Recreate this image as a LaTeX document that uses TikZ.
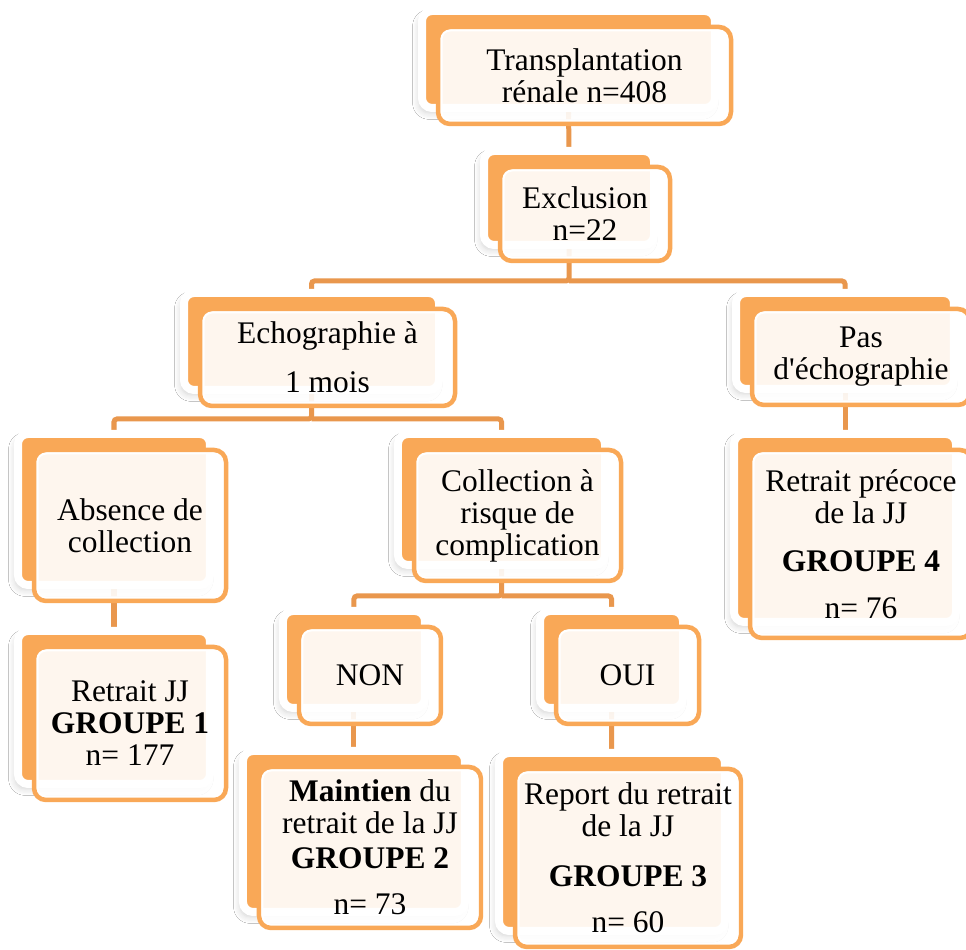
\documentclass[tikz,border=0pt]{standalone}
\usepackage{fontspec}
\setmainfont{Liberation Serif}
\usetikzlibrary{shadows.blur,backgrounds}

\definecolor{boxorange}{HTML}{F9A857}
\definecolor{linkorange}{HTML}{E9974D}
\definecolor{boxfill}{HTML}{FFFFFF}

\newcommand{\boxfont}{\fontsize{8.95pt}{9.1pt}\selectfont}

\begin{document}
\begin{tikzpicture}
\tikzset{ backbox/.style={fill=boxorange, draw=white, line width=0.08cm, rounded corners=0.1cm, inner sep=0pt,
            blur shadow={shadow xshift=-0.03cm, shadow yshift=-0.05cm, shadow opacity=18, shadow blur steps=6}},
          frontbox/.style={draw=boxorange, line width=0.045cm, rounded corners=0.12cm, fill=boxfill,
            fill opacity=0.9, text opacity=1, inner sep=0pt, align=center, font=\boxfont,
            path picture={\draw[white, line width=0.09cm, rounded corners=0.12cm]
              (path picture bounding box.south west) rectangle (path picture bounding box.north east);}},
          sz/.style 2 args={minimum width=#1cm, minimum height=#2cm},
          link/.style={draw=linkorange, line width=0.05cm, rounded corners=0.03cm},
}

\clip (0,0) rectangle (9.66,9.50);

%%% Blocs

% Transplantation
\node [backbox, sz={2.93}{0.97}] (TR0) at (5.685,8.905) { };
\node [frontbox, sz={2.93}{0.97}] (TR) at ([shift={(0.16,-0.16)}]TR0) {Transplantation\\rénale n=408};

% Exclusion
\node [backbox, sz={1.70}{0.94}] (EX0) at (5.69,7.52) { };
\node [frontbox, sz={1.70}{0.94}] (EX) at ([shift={(0.16,-0.16)}]EX0) {Exclusion\\n=22};

% Echographie a 1 mois
\node [backbox, sz={2.55}{0.97}] (ECHO0) at (3.115,6.085) { };
\node [frontbox, sz={2.55}{0.97}] (ECHO) at ([shift={(0.16,-0.16)}]ECHO0) {Echographie à\\[4.8pt]1 mois};

% Pas d'echographie
\node [backbox, sz={2.18}{0.96}] (PAS0) at (8.45,6.09) { };
\node [frontbox, sz={2.18}{0.96}] (PAS) at ([shift={(0.16,-0.16)}]PAS0) {Pas\\d\textquotesingle échographie};

% Absence de collection
\node [backbox, sz={1.92}{1.51}] (ABS0) at (1.14,4.405) { };
\node [frontbox, sz={1.92}{1.51}] (ABS) at ([shift={(0.16,-0.16)}]ABS0) {Absence de\\collection};

% Collection a risque
\node [backbox, sz={2.07}{1.31}] (COL0) at (5.015,4.505) { };
\node [frontbox, sz={2.07}{1.31}] (COL) at ([shift={(0.16,-0.16)}]COL0) {Collection à\\risque de\\complication};

% Groupe 4
\node [backbox, sz={2.22}{1.88}] (PREC0) at (8.45,4.22) { };
\node [frontbox, sz={2.22}{1.88}] (PREC) at ([shift={(0.16,-0.16)}]PREC0) {Retrait précoce\\de la JJ\\[4.5pt]\textbf{GROUPE 4}\\[4.3pt]n= 76};

% Groupe 1
\node [backbox, sz={1.92}{1.53}] (G10) at (1.14,2.425) { };
\node [frontbox, sz={1.92}{1.53}] (G1) at ([shift={(0.16,-0.16)}]G10) {Retrait JJ\\\textbf{GROUPE 1}\\n= 177};

% NON
\node [backbox, sz={1.42}{0.97}] (NON0) at (3.54,2.905) { };
\node [frontbox, sz={1.42}{0.97}] (NON) at ([shift={(0.16,-0.16)}]NON0) {NON};

% OUI
\node [backbox, sz={1.43}{0.97}] (OUI0) at (6.115,2.905) { };
\node [frontbox, sz={1.43}{0.97}] (OUI) at ([shift={(0.16,-0.16)}]OUI0) {OUI};

% Groupe 2
\node [backbox, sz={2.22}{1.61}] (MAIN0) at (3.54,1.185) { };
\node [frontbox, sz={2.22}{1.61}] (MAIN) at ([shift={(0.16,-0.16)}]MAIN0) {\textbf{Maintien} du\\retrait de la JJ\\[0.9pt]\textbf{GROUPE 2}\\[4pt]n= 73};

% Groupe 3
\node [backbox, sz={2.26}{1.78}] (REP0) at (6.12,1.08) { };
\node [frontbox, sz={2.26}{1.78}] (REP) at ([shift={(0.16,-0.16)}]REP0) {Report du retrait\\de la JJ\\[5.1pt]\textbf{GROUPE 3}\\[4pt]n= 60};

%%% Liens

\begin{scope}[on background layer]
\fill [white] (0,0) rectangle (9.66,9.50);

% transplantation -> exclusion
\draw [link] (TR0) -- (EX0);

% exclusion -> echographie / pas d'echographie
\coordinate (busEX) at (5.69,6.69);
\draw [link] (EX0) -- (busEX) -| (ECHO0);
\draw [link] (busEX) -| (PAS0);

% echographie -> absence / collection
\coordinate (busECHO) at (3.115,5.31);
\draw [link] (ECHO0) -- (busECHO) -| (ABS0);
\draw [link] (busECHO) -| (COL0);

% collection -> non / oui
\coordinate (busCOL) at (5.015,3.54);
\draw [link] (COL0) -- (busCOL) -| (NON0);
\draw [link] (busCOL) -| (OUI0);

% vers les groupes
\draw [link] (ABS0) -- (G10);
\draw [link] (PAS0) -- (PREC0);
\draw [link] (NON0) -- (MAIN0);
\draw [link] (OUI0) -- (REP0);
\end{scope}

\end{tikzpicture}
\end{document}
